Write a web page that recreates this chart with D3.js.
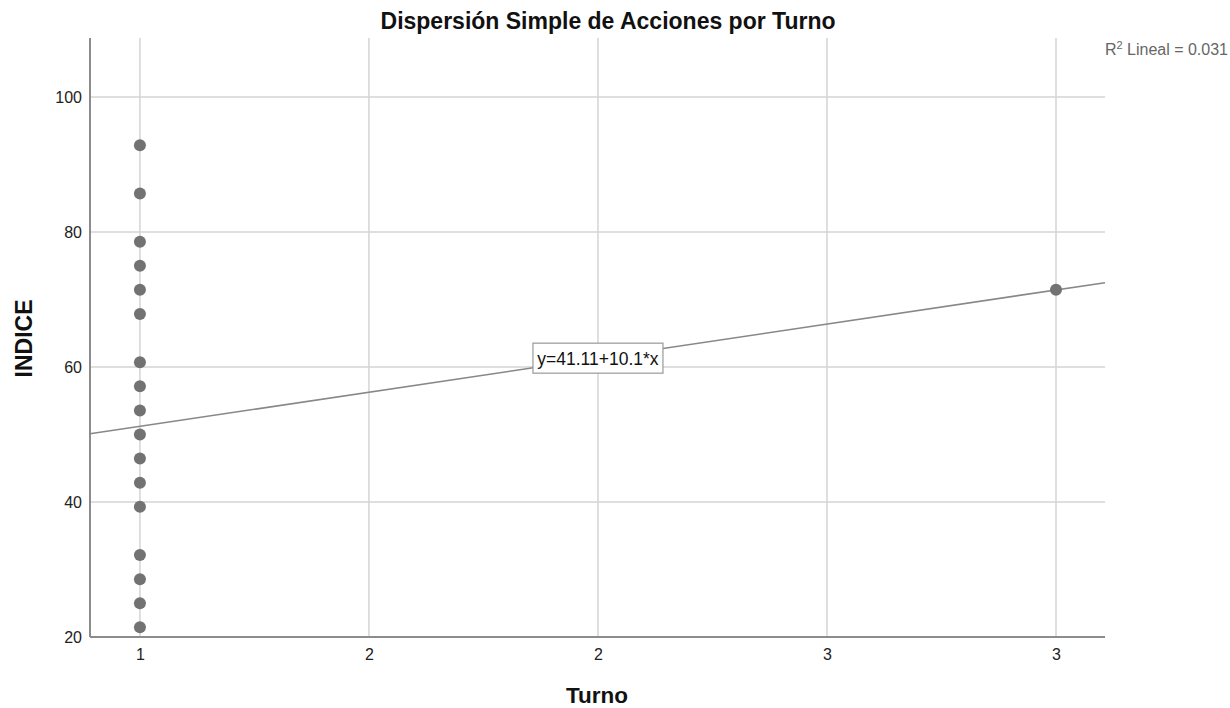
<!DOCTYPE html>
<html><head><meta charset="utf-8">
<script src="https://cdn.jsdelivr.net/npm/d3@7"></script>
<style>body{margin:0;background:#fff;} svg{display:block;font-family:Arial,"Liberation Sans",sans-serif;}</style>
</head><body>
<svg id="c" width="1230" height="708"></svg>
<script>
const turnoX = [1,1,1,1,1,1,1,1,1,1,1,1,1,1,1,1,1,3];
const indiceY = [92.86,85.71,78.57,75,71.43,67.86,60.71,57.14,53.57,50,46.43,42.86,39.29,32.14,28.57,25,21.43,71.43];
const xTicks = [1,1.5,2,2.5,3];
const xTickLabels = ["1","2","2","3","3"];
const yTicks = [20,40,60,80,100];
const intercept = 41.11, slope = 10.1;
const r2Label = "0.031";

const svg = d3.select("#c");
const L=90, R=1105, T=38, B=637;
const x = d3.scaleLinear().domain([0.891,3.107]).range([L,R]);
const y = d3.scaleLinear().domain([20,108.74]).range([B,T]);

// grid
svg.append("g").selectAll("line").data(yTicks.filter(d=>d>20)).join("line")
  .attr("x1",L).attr("x2",R).attr("y1",d=>y(d)).attr("y2",d=>y(d))
  .attr("stroke","#d4d4d4").attr("stroke-width",1.5);
svg.append("g").selectAll("line").data(xTicks).join("line")
  .attr("x1",d=>x(d)).attr("x2",d=>x(d)).attr("y1",T).attr("y2",B)
  .attr("stroke","#d4d4d4").attr("stroke-width",1.5);

// axes
const xAxis = d3.axisBottom(x).tickValues(xTicks).tickFormat((d,i)=>xTickLabels[i]).tickSize(0).tickPadding(12);
const gx = svg.append("g").attr("transform",`translate(0,${B})`).call(xAxis);
gx.select(".domain").attr("stroke","#8c8c8c").attr("stroke-width",2).attr("d",`M${L},0H${R}`);
gx.selectAll("text").attr("font-size",16).attr("fill","#222").attr("font-family","Arial,'Liberation Sans',sans-serif");
const yAxis = d3.axisLeft(y).tickValues(yTicks).tickSize(0).tickPadding(8);
const gy = svg.append("g").attr("transform",`translate(${L},0)`).call(yAxis);
gy.select(".domain").attr("stroke","#8c8c8c").attr("stroke-width",2).attr("d",`M0,${T}V${B}`);
gy.selectAll("text").attr("font-size",16).attr("fill","#222").attr("font-family","Arial,'Liberation Sans',sans-serif");

// regression line
const x0 = x.domain()[0], x1 = x.domain()[1];
svg.append("line").attr("x1",x(x0)).attr("y1",y(intercept+slope*x0))
  .attr("x2",x(x1)).attr("y2",y(intercept+slope*x1))
  .attr("stroke","#888888").attr("stroke-width",1.6);

// points
svg.append("g").selectAll("circle").data(turnoX.map((d,i)=>[d,indiceY[i]])).join("circle")
  .attr("cx",d=>x(d[0])).attr("cy",d=>y(d[1])).attr("r",6).attr("fill","#727272");

// equation label
const ex = 2, eyv = intercept+slope*ex;
const cx = x(ex), cy = y(eyv);
const eqG = svg.append("g");
eqG.append("rect").attr("x",cx-65).attr("y",cy-15).attr("width",130).attr("height",30)
  .attr("fill","#fff").attr("stroke","#999").attr("stroke-width",1.2);
eqG.append("text").attr("x",cx).attr("y",cy+6.5).attr("text-anchor","middle")
  .attr("font-size",17.5).attr("fill","#111").text(`y=${intercept}+${slope}*x`);

// title
svg.append("text").attr("x",608).attr("y",29).attr("text-anchor","middle").attr("font-size",23)
  .attr("font-weight","bold").attr("fill","#111").text("Dispersión Simple de Acciones por Turno");
// R2
const r2 = svg.append("text").attr("x",1228).attr("y",55).attr("text-anchor","end").attr("font-size",16).attr("fill","#666");
r2.append("tspan").text("R");
r2.append("tspan").attr("dy",-6).attr("font-size",11).text("2");
r2.append("tspan").attr("dy",6).text(" Lineal = " + r2Label);

// axis titles
svg.append("text").attr("x",597).attr("y",703).attr("text-anchor","middle").attr("font-size",22.5)
  .attr("font-weight","bold").attr("fill","#111").text("Turno");
svg.append("text").attr("transform","translate(32,338.5) rotate(-90)").attr("text-anchor","middle").attr("font-size",23)
  .attr("font-weight","bold").attr("fill","#111").text("INDICE");
</script>
</body></html>
